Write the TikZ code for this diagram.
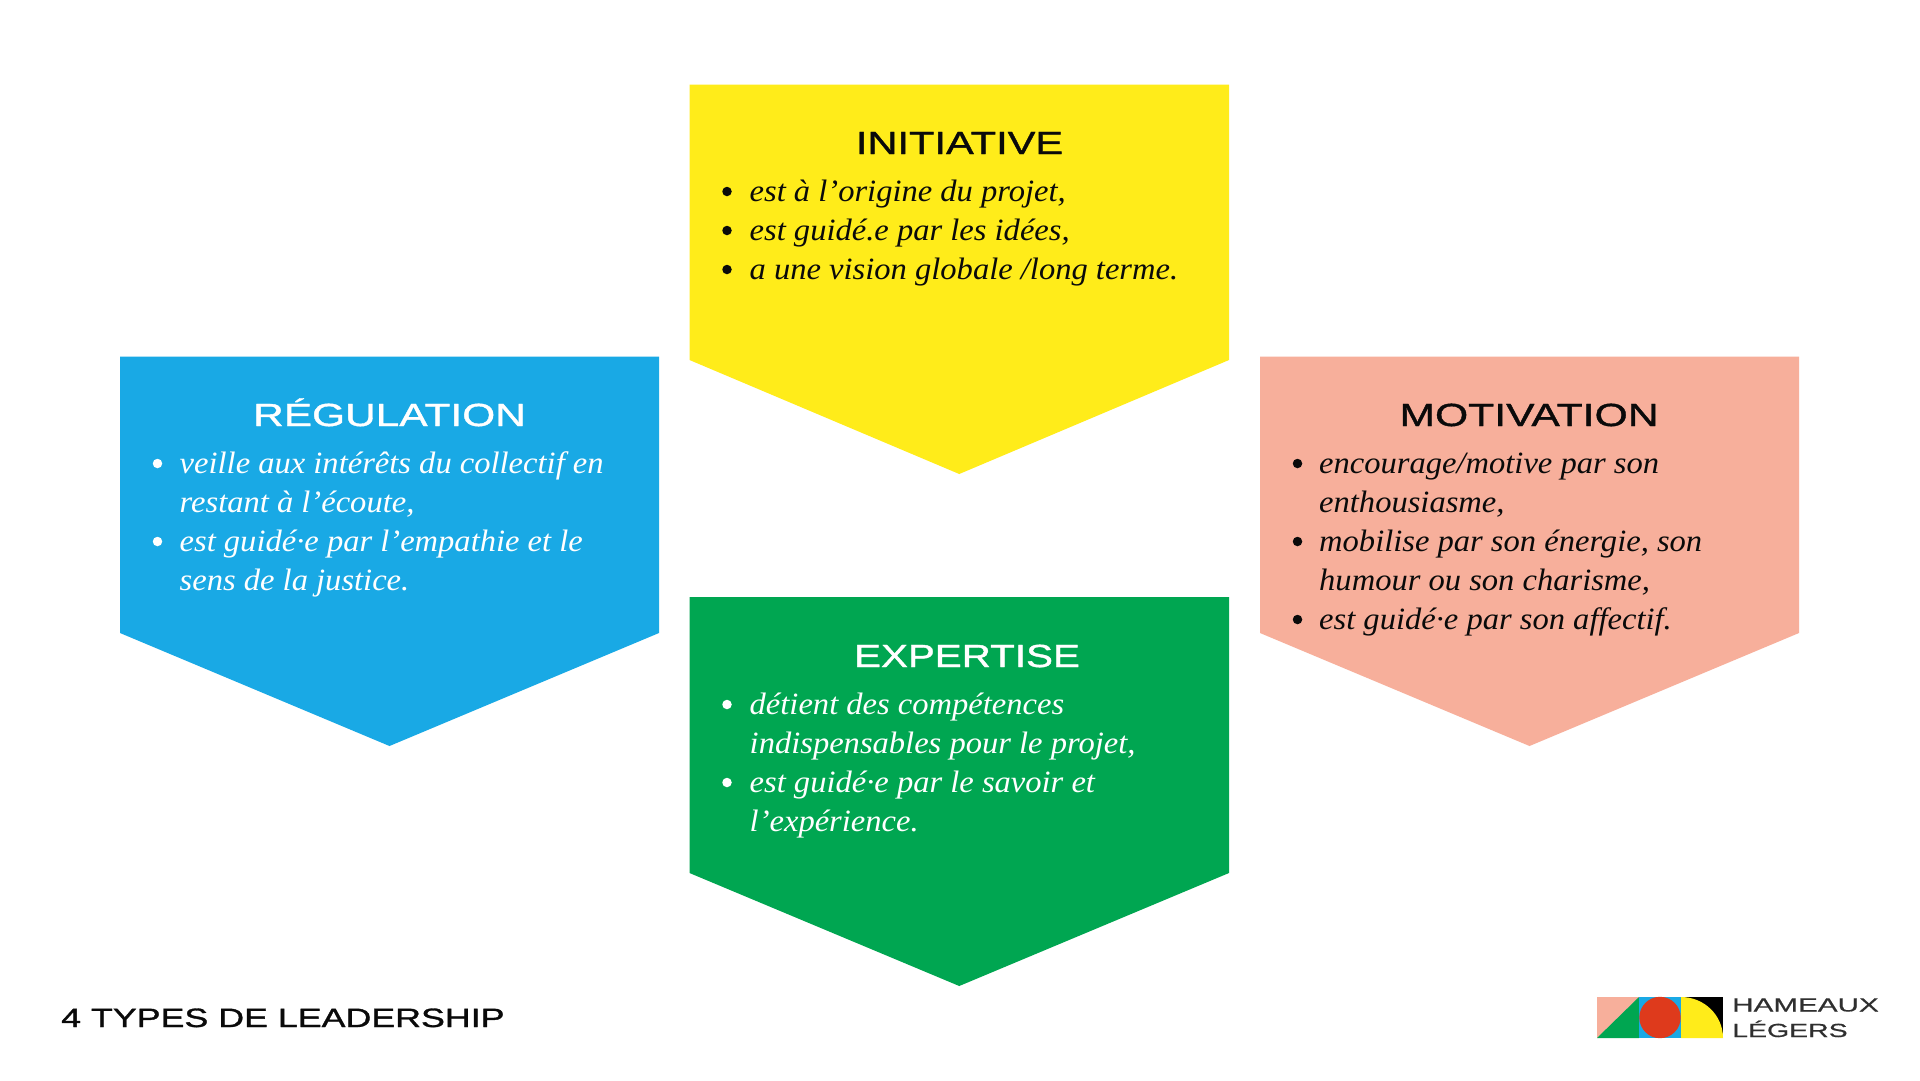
\documentclass[tikz,border=0pt]{standalone}
\usepackage{fontspec}
\setmainfont[FakeStretch=1.05]{Liberation Serif}
\newfontfamily\wideA[FakeStretch=1.3,FakeBold=1.2]{Liberation Sans}
\newfontfamily\wideB[FakeStretch=1.35,FakeBold=1.2]{Liberation Sans}
\newfontfamily\wideC[FakeStretch=1.56,FakeBold=0.6]{Liberation Sans}
\definecolor{cyellow}{HTML}{FFEC1A}
\definecolor{cblue}{HTML}{19A9E5}
\definecolor{cpink}{HTML}{F7AF9B}
\definecolor{cgreen}{HTML}{00A651}
\definecolor{cred}{HTML}{DE3A1C}
\definecolor{cink}{HTML}{0A0A0A}
\tikzset{
 x=1pt,y=-1pt,
 titletext/.style={anchor=base,inner sep=0pt,font=\wideA\fontsize{32}{32}\selectfont},
 bodytext/.style={anchor=base west,inner sep=0pt,font=\itshape\fontsize{31}{31}\selectfont},
 bulletdot/.style={circle,inner sep=0pt,minimum size=9.5pt,yshift=9.5pt,fill=#1},
 foottext/.style={anchor=base west,inner sep=0pt,text=cink,font=\wideB\fontsize{26.5}{26.5}\selectfont},
 logotext/.style={anchor=base west,inner sep=0pt,text=cink!85,font=\wideC\fontsize{19}{19}\selectfont},
}
\newcommand{\chev}[6]{\fill[#1] (#2,#4) -- (#3,#4) -- (#3,#5) -- ({(#2+#3)/2},#6) -- (#2,#5) -- cycle;}
\begin{document}
\begin{tikzpicture}
\useasboundingbox (0,0) rectangle (1920,1080);
\fill[white] (0,0) rectangle (1920,1080);
\chev{cyellow}{689.5}{1229}{84.5}{360}{474}
\chev{cblue}{120}{659}{356.5}{633}{746}
\chev{cpink}{1260}{1799}{356.5}{633}{746}
\chev{cgreen}{689.5}{1229}{597}{873}{986}

% INITIATIVE
\node[titletext,text=cink] (t1) at (959.5,154) {INITIATIVE};
\begin{scope}[every node/.append style={text=cink}]
\node[bulletdot=cink] (b11) at (727,201) {};
\node[bodytext] (l11) at (749.5,201) {est à l’origine du projet,};
\node[bulletdot=cink] (b12) at (727,240) {};
\node[bodytext] (l12) at (749.5,240) {est guidé.e par les idées,};
\node[bulletdot=cink] (b13) at (727,279) {};
\node[bodytext] (l13) at (749.5,279) {a une vision globale /long terme.};
\end{scope}

% REGULATION
\node[titletext,text=white] (t2) at (389.5,426) {\scalebox{1.02}[1]{RÉGULATION}};
\begin{scope}[every node/.append style={text=white}]
\node[bulletdot=white] (b21) at (157.5,473) {};
\node[bodytext] (l21) at (179.5,473) {veille aux intérêts du collectif en};
\node[bodytext] (l22) at (179.5,512) {restant à l’écoute,};
\node[bulletdot=white] (b22) at (157.5,551) {};
\node[bodytext] (l23) at (179.5,551) {est guidé·e par l’empathie et le};
\node[bodytext] (l24) at (179.5,590) {sens de la justice.};
\end{scope}

% MOTIVATION
\node[titletext,text=cink] (t3) at (1529,426) {\scalebox{1.025}[1]{MOTIVATION}};
\begin{scope}[every node/.append style={text=cink}]
\node[bulletdot=cink] (b31) at (1297.5,473) {};
\node[bodytext] (l31) at (1319,473) {encourage/motive par son};
\node[bodytext] (l32) at (1319,512) {enthousiasme,};
\node[bulletdot=cink] (b32) at (1297.5,551) {};
\node[bodytext] (l33) at (1319,551) {mobilise par son énergie, son};
\node[bodytext] (l34) at (1319,590) {humour ou son charisme,};
\node[bulletdot=cink] (b33) at (1297.5,629) {};
\node[bodytext] (l35) at (1319,629) {est guidé·e par son affectif.};
\end{scope}

% EXPERTISE
\node[titletext,text=white] (t4) at (967,667) {\scalebox{0.97}[1]{EXPERTISE}};
\begin{scope}[every node/.append style={text=white}]
\node[bulletdot=white] (b41) at (727,714) {};
\node[bodytext] (l41) at (749.5,714) {détient des compétences};
\node[bodytext] (l42) at (749.5,753) {indispensables pour le projet,};
\node[bulletdot=white] (b42) at (727,792) {};
\node[bodytext] (l43) at (749.5,792) {est guidé·e par le savoir et};
\node[bodytext] (l44) at (749.5,831) {l’expérience.};
\end{scope}

% footer
\node[foottext] (foot) at (61,1027) {4 TYPES DE LEADERSHIP};

% logo
\fill[cpink] (1597,997) rectangle (1639,1038);
\fill[cgreen] (1597,1038) -- (1639,997) -- (1639,1038) -- cycle;
\fill[cblue] (1639,997) rectangle (1681,1038);
\fill[cred] (1660,1017.5) circle[radius=20.7];
\fill[black] (1681,997) rectangle (1723,1038);
\fill[cyellow] (1681,1038) -- (1681,997) arc[start angle=-90,end angle=0,x radius=42,y radius=41] -- cycle;
\node[logotext] (lg1) at (1732,1011.5) {HAMEAUX};
\node[logotext] (lg2) at (1732,1037) {\scalebox{0.96}[1]{LÉGERS}};
\end{tikzpicture}
\end{document}
